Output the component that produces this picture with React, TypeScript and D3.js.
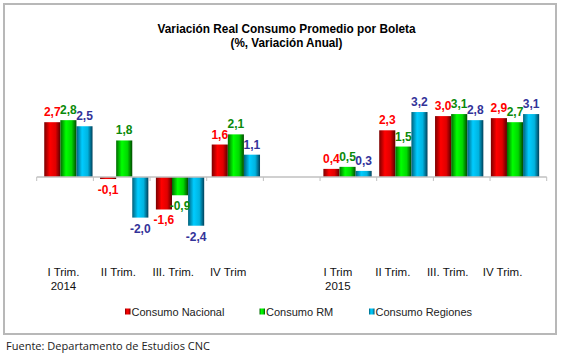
import React from "react";
import * as d3 from "d3";

const categories = ["I Trim.|2014", "II Trim.", "III. Trim.", "IV Trim", "", "I Trim|2015", "II Trim.", "III. Trim.", "IV Trim."];
const seriesNames = ["Consumo Nacional", "Consumo RM", "Consumo Regiones"];
const nacional = [2.7, -0.1, -1.6, 1.6, null, 0.4, 2.3, 3.0, 2.9];
const rm = [2.8, 1.8, -0.9, 2.1, null, 0.5, 1.5, 3.1, 2.7];
const regiones = [2.5, -2.0, -2.4, 1.1, null, 0.3, 3.2, 2.8, 3.1];

const seriesValues = [nacional, rm, regiones];
const gradStops = [
  ["#7a0000", "#ff0000", "#e00000", "#5a0000"],
  ["#006a00", "#00ff00", "#00d800", "#004a00"],
  ["#00607a", "#00ccff", "#00b4e0", "#00405a"],
];
const labelColors = ["#ff0000", "#0a8a0a", "#333399"];

export default function App() {
  const W = 562, H = 356;
  const x0 = d3.scaleBand<number>().domain(d3.range(categories.length)).range([36.7, 546.7]).padding(0.135);
  const xTick = d3.scaleBand<number>().domain(d3.range(categories.length)).range([36.7, 546.7]).padding(0);
  const xLabel = d3.scaleBand<number>().domain(d3.range(categories.length)).range([36, 530]).padding(0);
  const x1 = d3.scaleBand<number>().domain([0, 1, 2]).range([0, x0.bandwidth()]).padding(0);
  const y = d3.scaleLinear().domain([-3.5, 3.5]).range([248.05, 105.95]);
  const fmt = (v: number) => d3.format(".1f")(v).replace(".", ",").replace("\u2212", "-");
  const legendX = [125, 259.5, 369];

  return (
    <div style={{ position: "fixed", left: 0, top: 0 }}>
      <svg width={W} height={H} style={{ display: "block" }}>
        <defs>
          {gradStops.map((s, i) => (
            <linearGradient key={i} id={`g${i}`} x1="0" x2="1" y1="0" y2="0">
              <stop offset="0" stopColor={s[0]} />
              <stop offset="0.35" stopColor={s[1]} />
              <stop offset="0.7" stopColor={s[2]} />
              <stop offset="1" stopColor={s[3]} />
            </linearGradient>
          ))}
        </defs>
        <rect x={0} y={0} width={W} height={H} fill="#fff" />
        <rect x={4} y={4} width={552} height={330} fill="#fff" stroke="#b8b8b8" strokeWidth={2} />
        <text x={286.5} y={32.5} textAnchor="middle" fontFamily="Liberation Sans, Arial, sans-serif" fontWeight="bold" fontSize={13} textLength={258} lengthAdjust="spacingAndGlyphs" fill="#000">
          Variación Real Consumo Promedio por Boleta
        </text>
        <text x={286.5} y={46.5} textAnchor="middle" fontFamily="Liberation Sans, Arial, sans-serif" fontWeight="bold" fontSize={13} textLength={112} lengthAdjust="spacingAndGlyphs" fill="#000">
          (%, Variación Anual)
        </text>
        {seriesValues.map((vals, si) =>
          vals.map((v, ci) => {
            if (v === null) return null;
            const bx = (x0(ci) as number) + (x1(si) as number);
            const bw = x1.bandwidth();
            const top = y(Math.max(0, v));
            const h = Math.abs(y(v) - y(0));
            return <rect key={`b${si}-${ci}`} x={bx} y={top} width={bw} height={Math.max(h, 1.5)} fill={`url(#g${si})`} />;
          })
        )}
        <line x1={xTick.range()[0]} x2={xTick.range()[1]} y1={y(0)} y2={y(0)} stroke="#c0c0c0" strokeWidth={1.5} />
        {d3.range(categories.length + 1).map((i) => {
          const tx = xTick.range()[0] + i * xTick.step();
          return <line key={`t${i}`} x1={tx} x2={tx} y1={y(0)} y2={y(0) + 4} stroke="#c0c0c0" strokeWidth={1} />;
        })}
        {seriesValues.map((vals, si) =>
          vals.map((v, ci) => {
            if (v === null) return null;
            const cx = (x0(ci) as number) + (x1(si) as number) + x1.bandwidth() / 2;
            const ly = v >= 0 ? y(v) - 6 : y(v) + 15;
            return (
              <text key={`l${si}-${ci}`} x={cx} y={ly} textAnchor="middle" fontFamily="Liberation Sans, Arial, sans-serif" fontWeight="bold" fontSize={12} fill={labelColors[si]}>
                {fmt(v)}
              </text>
            );
          })
        )}
        {categories.map((c, ci) => {
          const cx = (xLabel(ci) as number) + xLabel.bandwidth() / 2;
          return c.split("|").map((line, li) => (
            <text key={`c${ci}-${li}`} x={cx} y={275.5 + li * 14} textAnchor="middle" fontFamily="Liberation Sans, Arial, sans-serif" fontSize={11.5} fill="#111">
              {line}
            </text>
          ));
        })}
        {seriesNames.map((n, i) => (
          <g key={`lg${i}`}>
            <rect x={legendX[i]} y={308.5} width={5.5} height={6} fill={`url(#g${i})`} />
            <text x={legendX[i] + 6.5} y={315.5} fontFamily="Liberation Sans, Arial, sans-serif" fontSize={11} fill="#222">
              {n}
            </text>
          </g>
        ))}
        <text x={6} y={350} fontFamily="Open Sans, Noto Sans, sans-serif" fontSize={11.5} textLength={204} lengthAdjust="spacingAndGlyphs" fill="#222">
          Fuente: Departamento de Estudios CNC
        </text>
      </svg>
    </div>
  );
}
